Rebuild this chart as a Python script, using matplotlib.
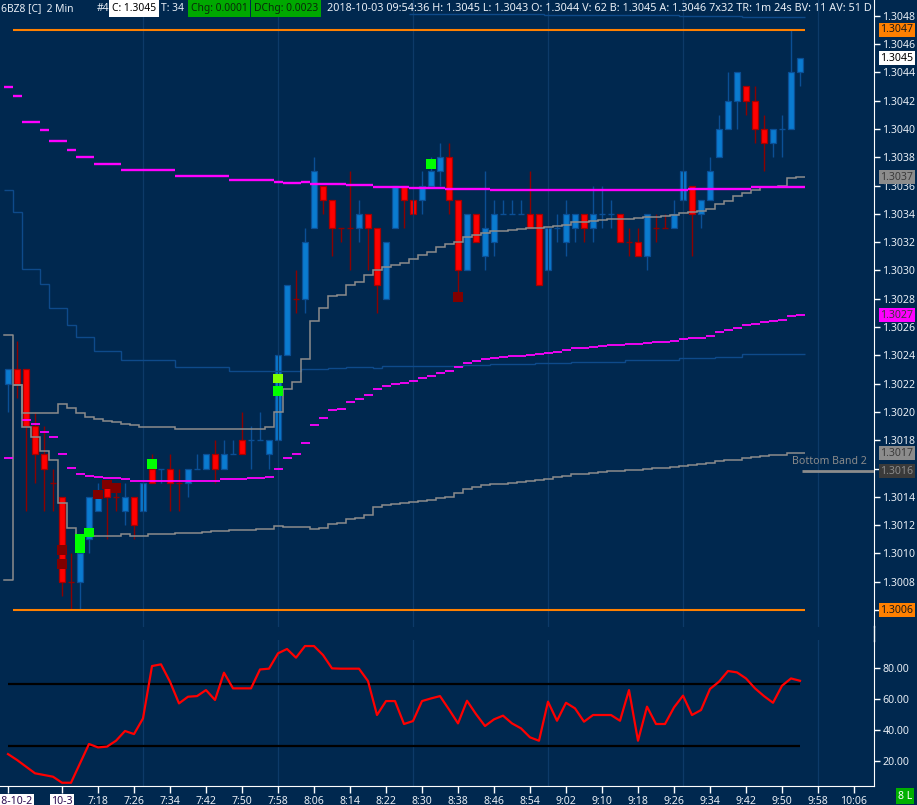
import numpy as np
import matplotlib
matplotlib.use("Agg")
import matplotlib.pyplot as plt
from matplotlib.lines import Line2D
from matplotlib.transforms import blended_transform_factory

plt.rcParams['font.family'] = ['Noto Sans', 'DejaVu Sans']

W, H = 917, 805
FS = 7.6
FS_HEAD = 7.4
BG = '#00284f'
TXT = '#e8eef5'
GRID = '#0d3a68'
UP_FILL, UP_EDGE = '#0a7bd0', '#0b4f95'
DN_FILL, DN_EDGE = '#ff0000', '#a80000'
DN_WICK = '#8b0000'
GREY = '#8c8c8c'
BLUE_BAND = '#0e4a8a'
MAGENTA = '#ff00ff'
ORANGE = '#ff8000'

# ---- 2 min bars, 6BZ8 ----
opens = [1.3022, 1.3023, 1.3023, 1.3019, 1.3017, 1.3015, 1.3014, 1.3008, 1.3008, 1.3011,
         1.3013, 1.3015, 1.3014, 1.3013, 1.3014, 1.3013, 1.3016, 1.3016, 1.3016, 1.3015,
         1.3015, 1.3016, 1.3016, 1.3017, 1.3016, 1.3017, 1.3018, 1.3018, 1.3018, 1.3017,
         1.3018, 1.3024, 1.3028, 1.3028, 1.3033, 1.3036, 1.3035, 1.3033, 1.3033, 1.3033,
         1.3034, 1.3033, 1.3028, 1.3033, 1.3036, 1.3035, 1.3035, 1.3036, 1.3037, 1.3038,
         1.3035, 1.3030, 1.3034, 1.3031, 1.3032, 1.3034, 1.3034, 1.3034, 1.3034, 1.3034,
         1.3030, 1.3033, 1.3032, 1.3033, 1.3034, 1.3033, 1.3034, 1.3034, 1.3034, 1.3032,
         1.3032, 1.3031, 1.3033, 1.3033, 1.3033, 1.3035, 1.3036, 1.3034, 1.3035, 1.3038,
         1.3040, 1.3042, 1.3043, 1.3042, 1.3040, 1.3039, 1.3040, 1.3040, 1.3044]
highs = [1.3023, 1.3025, 1.3023, 1.3020, 1.3019, 1.3016, 1.3014, 1.3010, 1.3010, 1.3014,
         1.3015, 1.3015, 1.3015, 1.3015, 1.3014, 1.3015, 1.3017, 1.3016, 1.3017, 1.3016,
         1.3016, 1.3017, 1.3017, 1.3018, 1.3018, 1.3018, 1.3020, 1.3019, 1.3020, 1.3018,
         1.3024, 1.3029, 1.3030, 1.3033, 1.3038, 1.3036, 1.3035, 1.3033, 1.3037, 1.3035,
         1.3034, 1.3033, 1.3032, 1.3036, 1.3036, 1.3035, 1.3037, 1.3038, 1.3039, 1.3039,
         1.3035, 1.3034, 1.3034, 1.3037, 1.3035, 1.3035, 1.3035, 1.3035, 1.3037, 1.3034,
         1.3033, 1.3034, 1.3035, 1.3034, 1.3034, 1.3036, 1.3036, 1.3035, 1.3034, 1.3033,
         1.3033, 1.3034, 1.3034, 1.3034, 1.3035, 1.3037, 1.3036, 1.3035, 1.3038, 1.3041,
         1.3044, 1.3044, 1.3043, 1.3043, 1.3041, 1.3040, 1.3041, 1.3047, 1.3045]
lows = [1.3020, 1.3021, 1.3013, 1.3015, 1.3013, 1.3013, 1.3007, 1.3006, 1.3006, 1.3010,
        1.3013, 1.3011, 1.3013, 1.3012, 1.3011, 1.3013, 1.3015, 1.3015, 1.3013, 1.3013,
        1.3014, 1.3016, 1.3016, 1.3015, 1.3016, 1.3017, 1.3017, 1.3016, 1.3018, 1.3016,
        1.3018, 1.3024, 1.3027, 1.3027, 1.3033, 1.3034, 1.3031, 1.3032, 1.3030, 1.3032,
        1.3030, 1.3027, 1.3028, 1.3033, 1.3033, 1.3034, 1.3034, 1.3036, 1.3036, 1.3034,
        1.3028, 1.3030, 1.3032, 1.3030, 1.3031, 1.3034, 1.3034, 1.3034, 1.3033, 1.3029,
        1.3030, 1.3032, 1.3031, 1.3032, 1.3032, 1.3032, 1.3033, 1.3033, 1.3032, 1.3031,
        1.3031, 1.3030, 1.3032, 1.3033, 1.3033, 1.3035, 1.3031, 1.3033, 1.3035, 1.3038,
        1.3040, 1.3040, 1.3041, 1.3039, 1.3037, 1.3038, 1.3038, 1.3040, 1.3043]
closes = [1.3023, 1.3022, 1.3019, 1.3017, 1.3016, 1.3015, 1.3008, 1.3008, 1.3010, 1.3014,
          1.3014, 1.3014, 1.3014, 1.3014, 1.3012, 1.3015, 1.3015, 1.3016, 1.3015, 1.3015,
          1.3016, 1.3016, 1.3017, 1.3016, 1.3017, 1.3017, 1.3017, 1.3018, 1.3018, 1.3018,
          1.3024, 1.3029, 1.3028, 1.3032, 1.3037, 1.3035, 1.3033, 1.3033, 1.3033, 1.3034,
          1.3033, 1.3029, 1.3032, 1.3036, 1.3035, 1.3034, 1.3036, 1.3037, 1.3038, 1.3035,
          1.3030, 1.3034, 1.3032, 1.3033, 1.3034, 1.3034, 1.3034, 1.3034, 1.3033, 1.3029,
          1.3033, 1.3033, 1.3034, 1.3034, 1.3033, 1.3034, 1.3034, 1.3034, 1.3032, 1.3032,
          1.3031, 1.3034, 1.3033, 1.3033, 1.3034, 1.3037, 1.3034, 1.3035, 1.3037, 1.3040,
          1.3042, 1.3044, 1.3042, 1.3040, 1.3039, 1.3040, 1.3040, 1.3044, 1.3045]
doji_down = [5, 7, 12, 19, 32, 37, 38, 69, 72, 73]

# study lines, as (first bar, value) steps
grey_upper = [(1, 1.302190), (2, 1.301992), (6, 1.302054), (7, 1.302025), (8, 1.301990),
              (9, 1.301966), (10, 1.301948), (11, 1.301936), (12, 1.301926), (13, 1.301912),
              (14, 1.301905), (15, 1.301895), (16, 1.301891), (19, 1.301881), (29, 1.301891),
              (30, 1.302001), (31, 1.302160), (32, 1.302209), (33, 1.302372), (34, 1.302640),
              (35, 1.302732), (36, 1.302819), (37, 1.302826), (38, 1.302895), (39, 1.302920),
              (40, 1.302965), (41, 1.303003), (42, 1.303026), (43, 1.303040), (44, 1.303054),
              (45, 1.303078), (46, 1.303107), (47, 1.303130), (48, 1.303163), (49, 1.303184),
              (50, 1.303199), (51, 1.303238), (52, 1.303250), (53, 1.303262), (54, 1.303276),
              (56, 1.303286), (57, 1.303293), (58, 1.303298), (60, 1.303305), (61, 1.303312),
              (62, 1.303323), (63, 1.303340), (65, 1.303349), (66, 1.303354), (67, 1.303361),
              (70, 1.303368), (71, 1.303377), (73, 1.303384), (74, 1.303391), (75, 1.303403),
              (76, 1.303410), (77, 1.303419), (78, 1.303431), (79, 1.303467), (80, 1.303490),
              (81, 1.303526), (82, 1.303549), (83, 1.303568), (84, 1.303592), (86, 1.303599),
              (87, 1.303651), (88, 1.303658)]
grey_lower = [(1, 1.302190), (2, 1.301895), (3, 1.301825), (4, 1.301724), (5, 1.301660),
              (6, 1.301354), (7, 1.301177), (8, 1.301125), (13, 1.301137), (14, 1.301125),
              (16, 1.301137), (19, 1.301142), (22, 1.301151), (23, 1.301158), (25, 1.301165),
              (28, 1.301172), (30, 1.301191), (31, 1.301184), (34, 1.301170), (35, 1.301177),
              (36, 1.301206), (37, 1.301213), (38, 1.301241), (39, 1.301248), (40, 1.301269),
              (41, 1.301326), (42, 1.301340), (43, 1.301347), (44, 1.301354), (45, 1.301361),
              (46, 1.301368), (47, 1.301375), (48, 1.301389), (49, 1.301396), (50, 1.301425),
              (51, 1.301453), (52, 1.301467), (53, 1.301481), (54, 1.301488), (56, 1.301495),
              (57, 1.301502), (58, 1.301510), (59, 1.301517), (60, 1.301524), (61, 1.301538),
              (62, 1.301545), (63, 1.301559), (65, 1.301566), (66, 1.301573), (67, 1.301580),
              (69, 1.301587), (71, 1.301594), (72, 1.301601), (74, 1.301608), (75, 1.301616),
              (76, 1.301623), (77, 1.301630), (78, 1.301637), (79, 1.301651), (80, 1.301658),
              (82, 1.301672), (83, 1.301679), (84, 1.301686), (85, 1.301693), (87, 1.301707)]
blue_lower = [(0, 1.303566), (1, 1.303411), (2, 1.303008), (4, 1.302902), (5, 1.302732),
              (7, 1.302612), (8, 1.302527), (10, 1.302430), (13, 1.302367), (19, 1.302319),
              (25, 1.302287), (33, 1.302301), (36, 1.302308), (38, 1.302315), (41, 1.302308),
              (42, 1.302322), (51, 1.302329), (54, 1.302336), (59, 1.302343), (63, 1.302351),
              (69, 1.302365), (75, 1.302379), (79, 1.302386), (82, 1.302407)]
blue_upper = [(45, 1.304812), (60, 1.304805), (75, 1.304798), (82, 1.304791)]
magenta_upper = [(0, 1.304296), (1, 1.304233), (2, 1.304049), (4, 1.303992), (5, 1.303914),
                 (7, 1.303851), (8, 1.303801), (10, 1.303752), (13, 1.303710), (19, 1.303667),
                 (25, 1.303639), (30, 1.303625), (31, 1.303618), (33, 1.303625), (34, 1.303613),
                 (38, 1.303604), (41, 1.303592), (45, 1.303584), (49, 1.303575), (54, 1.303568),
                 (76, 1.303575), (83, 1.303592)]
nan = float('nan')
magenta_lower = [1.301674, nan, 1.301943, 1.301914, 1.301858, 1.301823, 1.301702, 1.301604, 1.301561, 1.301547,
                 1.301540, 1.301533, 1.301533, 1.301526, 1.301512, 1.301512, 1.301512, 1.301512, 1.301512, 1.301510,
                 1.301514, 1.301514, 1.301514, 1.301514, 1.301524, 1.301524, 1.301524, 1.301533, 1.301533, 1.301540,
                 1.301596, 1.301672, 1.301700, 1.301778, 1.301905, 1.301955, 1.302011, 1.302018, 1.302068, 1.302089,
                 1.302117, 1.302160, 1.302181, 1.302195, 1.302202, 1.302216, 1.302237, 1.302252, 1.302273, 1.302287,
                 1.302315, 1.302343, 1.302358, 1.302372, 1.302379, 1.302386, 1.302393, 1.302393, 1.302400, 1.302407,
                 1.302414, 1.302421, 1.302435, 1.302449, 1.302449, 1.302457, 1.302464, 1.302471, 1.302471, 1.302478,
                 1.302478, 1.302485, 1.302492, 1.302492, 1.302499, 1.302513, 1.302520, 1.302520, 1.302534, 1.302563,
                 1.302577, 1.302591, 1.302612, 1.302619, 1.302633, 1.302640, 1.302647, 1.302676, 1.302683]
day_high, day_low = 1.3047, 1.3006
prior_top, prior_bottom = 1.302543, 1.300812
bottom_band2 = 1.301582

# signal squares
sig_bars = [6, 6, 8, 8, 9, 10, 11, 12, 16, 30, 30, 47, 50]
sig_prices = [1.301024, 1.300925, 1.301102, 1.301038, 1.301148, 1.301416, 1.301487, 1.301462,
              1.301632, 1.302236, 1.302148, 1.303752, 1.302812]
sig_colors = ['#800000', '#800000', '#00ff00', '#00ff00', '#00ff00', '#800000', '#800000', '#800000',
              '#00ff00', '#80ff00', '#00ff00', '#00ff00', '#800000']

# oscillator
osc = [24.6, 20.8, 16.5, 12.2, 11.1, 10.0, 6.1, 6.1, 18.6, 31.1,
       28.9, 29.4, 33.2, 39.5, 37.5, 47.6, 81.4, 82.5, 71.3, 57.3,
       61.6, 62.0, 65.9, 59.5, 77.1, 67.0, 67.0, 67.0, 79.2, 79.7,
       89.6, 92.4, 86.8, 94.3, 94.3, 88.5, 79.9, 79.7, 79.7, 79.7,
       71.7, 49.8, 58.8, 58.8, 44.0, 45.9, 58.8, 60.5, 62.0, 53.4,
       44.4, 59.0, 50.4, 42.7, 47.0, 49.4, 44.4, 41.2, 35.4, 33.2,
       58.4, 46.1, 57.7, 54.1, 45.5, 49.8, 49.8, 49.8, 46.1, 65.9,
       33.2, 55.2, 44.0, 44.0, 54.7, 62.3, 49.8, 53.0, 66.6, 71.3,
       78.2, 77.3, 73.4, 67.0, 62.0, 57.7, 68.7, 73.4, 71.9]
osc_levels = [70, 30]

tick_bars = [0, 6] + list(range(10, 95, 4))
tick_labels = ['2018-10-2', '10-3', '7:18', '7:26', '7:34', '7:42', '7:50', '7:58', '8:06', '8:14',
               '8:22', '8:30', '8:38', '8:46', '8:54', '9:02', '9:10', '9:18', '9:26', '9:34',
               '9:42', '9:50', '9:58', '10:06']
grid_bars = [15, 30, 45, 60, 75, 90]
price_ticks = [1.3006, 1.3008, 1.3010, 1.3012, 1.3014, 1.3016, 1.3018, 1.3020, 1.3022, 1.3024, 1.3026,
               1.3028, 1.3030, 1.3032, 1.3034, 1.3036, 1.3038, 1.3040, 1.3042, 1.3044, 1.3046, 1.3048]

header_left = [('6BZ8 [C]  2 Min', 1, None, TXT), ('#4', 97, None, TXT), ('C: 1.3045', 112, 'white', '#000000'),
               ('T: 34', 161, None, TXT), ('Chg: 0.0001', 191, '#00a800', '#0a2a0a'),
               ('DChg: 0.0023', 254, '#00a800', '#0a2a0a')]
header_right = ('2018-10-03 09:54:36 H: 1.3045 L: 1.3043 O: 1.3044 V: 62 B: 1.3045 A: 1.3046 '
                '7x32 TR: 1m 24s BV: 11 AV: 51 D')


def expand_steps(steps, last):
    vals = np.full(last + 1, np.nan)
    for k, (start, v) in enumerate(steps):
        end = steps[k + 1][0] if k + 1 < len(steps) else last + 1
        vals[start:end] = v
    return vals


def stair(ax, steps, last, **kw):
    first = steps[0][0]
    vals = expand_steps(steps, last)[first:]
    edges = np.arange(first, last + 2) - 0.5
    ax.stairs(vals, edges, baseline=None, **kw)


last = len(opens) - 1
x = np.arange(len(opens))
o, h, l, c = (np.array(a) for a in (opens, highs, lows, closes))
up = c > o + 1e-9
dn = c < o - 1e-9
dj = ~(up | dn)
dj_dn = np.zeros(len(x), bool)
dj_dn[doji_down] = True

fig = plt.figure(figsize=(W / 100, H / 100), dpi=100, facecolor=BG)
ax = fig.add_axes([0, (H - 627) / H, 874 / W, 627 / H], facecolor=BG)
ax2 = fig.add_axes([0, (H - 786) / H, 874 / W, (786 - 640) / H], facecolor=BG)
for a in (ax, ax2):
    a.set_xlim(-8 / 9, 866 / 9)
    for s in ('left', 'top'):
        a.spines[s].set_visible(False)
    a.spines['right'].set_color('white')
    for g in grid_bars:
        a.axvline(g, color=GRID, lw=0.9, zorder=2.5)
ax.spines['bottom'].set_visible(False)
ax2.spines['bottom'].set_color('white')
ax.set_ylim(1.300480, 1.304911)
ax2.set_ylim(4.0, 98.2)

# candles
ax.vlines(x[up], l[up], h[up], color=UP_EDGE, lw=1, zorder=2)
ax.vlines(x[dn], l[dn], h[dn], color=DN_WICK, lw=1, zorder=2)
ax.bar(x[up], (c - o)[up], bottom=o[up], width=0.56, color=UP_FILL, edgecolor=UP_EDGE, lw=0.9, zorder=2.1)
ax.bar(x[dn], (o - c)[dn], bottom=c[dn], width=0.56, color=DN_FILL, edgecolor=DN_EDGE, lw=0.9, zorder=2.1)
for mask, col in ((dj & dj_dn, DN_WICK), (dj & ~dj_dn, UP_EDGE)):
    ax.vlines(x[mask], l[mask], h[mask], color=col, lw=1, zorder=2)
    ax.hlines(c[mask], x[mask] - 0.3, x[mask] + 0.3, color=col, lw=1, zorder=2)

# studies
stair(ax, blue_lower, last, color=BLUE_BAND, lw=1.0, zorder=2.8)
stair(ax, blue_upper, last, color=BLUE_BAND, lw=1.0, zorder=2.8)
stair(ax, grey_upper, last, color=GREY, lw=1.1, zorder=3)
stair(ax, grey_lower, last, color=GREY, lw=1.1, zorder=3)
for k, (start, v) in enumerate(magenta_upper):
    end = magenta_upper[k + 1][0] if k + 1 < len(magenta_upper) else last + 1
    ax.hlines(v, start - 0.5, end - 0.5, color=MAGENTA, lw=1.7, zorder=3.1)
ml = np.array(magenta_lower)
ok = ~np.isnan(ml)
ax.hlines(ml[ok], x[ok] - 0.5, x[ok] + 0.5, color=MAGENTA, lw=1.3, zorder=3.1)
ax.hlines([day_high, day_low], 0.5, last + 0.5, color=ORANGE, lw=1.5, zorder=3.2)
ax.plot([-0.45, 0.55, 0.55, -0.45], [prior_top, prior_top, prior_bottom, prior_bottom],
        color=GREY, lw=1.1, zorder=3)
ax.hlines(bottom_band2, 88.2, 96.3, color=GREY, lw=2, zorder=3)
ax.text(87.1, 1.301648, 'Bottom Band 2', color='#8a8a8a', fontsize=FS, va='center', ha='left', zorder=3)
ax.scatter(sig_bars, sig_prices, marker='s', s=50, c=sig_colors, linewidths=0, zorder=4)

# price scale
ax.set_xticks([])
ax.yaxis.tick_right()
ax.set_yticks(price_ticks)
ax.set_yticklabels(['%.4f' % p for p in price_ticks])
ax.tick_params(axis='y', colors='white', labelcolor=TXT, length=4, width=1, pad=2, labelsize=FS)

bt = blended_transform_factory(ax.transAxes, ax.transData)
value_boxes = [(1.3047, '1.3047', ORANGE, '#1a1a1a'), (1.3045, '1.3045', 'white', '#000000'),
               (1.303658, '1.3037', '#8c8c8c', '#3a3a3a'), (1.302683, '1.3027', MAGENTA, '#3a3a3a'),
               (1.301707, '1.3017', '#8c8c8c', '#3a3a3a'), (bottom_band2, '1.3016', '#3a3a3a', '#8c8c8c'),
               (1.3006, '1.3006', ORANGE, '#1a1a1a')]
for p, t, fc, tc in value_boxes:
    ax.text(1.007, p, t, transform=bt, va='center', ha='left', fontsize=FS, color=tc, zorder=10,
            clip_on=False, bbox=dict(boxstyle='square,pad=0.15', fc=fc, ec='none'))

# oscillator panel
ax2.plot(x, osc, color='#ff0000', lw=1.6, zorder=3)
ax2.hlines(osc_levels, 0, last, color='black', lw=1.6, zorder=2.8)
ax2.yaxis.tick_right()
ax2.set_yticks([20, 40, 60, 80])
ax2.set_yticklabels(['20.00', '40.00', '60.00', '80.00'])
ax2.tick_params(axis='y', colors='white', labelcolor=TXT, length=4, width=1, pad=2, labelsize=FS)
ax2.set_xticks(tick_bars)
ax2.set_xticklabels(tick_labels)
ax2.tick_params(axis='x', colors='white', labelcolor=TXT, length=5, width=1, pad=2, labelsize=FS)
labs = ax2.get_xticklabels()
for lab in labs[:2]:
    lab.set_color('#2a0a50')
    lab.set_bbox(dict(boxstyle='square,pad=0.12', fc='white', ec='none'))

fig.add_artist(Line2D([874 / W, 874 / W], [(H - 641) / H, (H - 626) / H], color='white', lw=1,
                      transform=fig.transFigure))

# header line
for t, px, fc, tc in header_left:
    kw = {}
    if fc:
        kw['bbox'] = dict(boxstyle='square,pad=0.25', fc=fc, ec='none')
    fig.text(px / W, 1 - 8.5 / H, t, color=tc, fontsize=FS_HEAD, va='center', ha='left', zorder=10, **kw)
tail = fig.text(327 / W, 1 - 8.5 / H, header_right, color=TXT, fontsize=FS_HEAD, va='center', ha='left',
                zorder=10)
renderer = fig.canvas.get_renderer()
tw = tail.get_window_extent(renderer).width
tail.set_fontsize(FS_HEAD * (872 - 327) / tw)

fig.text(898 / W, 1 - 796 / H, '8 L', color='white', fontsize=FS, va='center', ha='left',
         bbox=dict(boxstyle='square,pad=0.2', fc='#00b000', ec='none'))

fig.savefig('out.png', dpi=100, facecolor=BG)
